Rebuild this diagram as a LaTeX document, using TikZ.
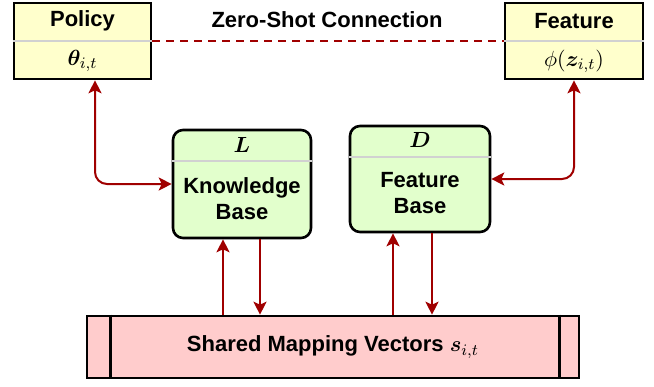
\documentclass[tikz,border=0pt]{standalone}
\usepackage{fontspec}
\setmainfont{Liberation Sans}
\usepackage{amsmath}
\usepackage{bm}
\usetikzlibrary{positioning}
\usetikzlibrary{arrows.meta}
\definecolor{boxyellow}{HTML}{FFFFCC}
\definecolor{boxgreen}{HTML}{E2FFCC}
\definecolor{boxpink}{HTML}{FFCCCC}
\definecolor{linkred}{HTML}{A00000}
\tikzset{
  topbox/.style={draw=black,line width=1.3pt,fill=boxyellow,minimum width=68.5pt,minimum height=38pt,inner sep=0pt},
  basebox/.style={draw=black,line width=1.3pt,fill=boxgreen,rounded corners=5pt,minimum width=69pt,minimum height=54pt,inner sep=0pt},
  barbox/.style={draw=black,line width=1.3pt,fill=boxpink,minimum width=246pt,minimum height=31pt,inner sep=0pt},
  divider/.style={draw=black!18,line width=1pt},
  label/.style={font=\fontsize{11}{13}\selectfont\bfseries,align=center,inner sep=1pt},
  link/.style={draw=linkred,line width=1pt,{Stealth[length=6.5pt,width=6.5pt,inset=1.5pt]}-{Stealth[length=6.5pt,width=6.5pt,inset=1.5pt]}},
  uplink/.style={draw=linkred,line width=1pt,-{Stealth[length=6.5pt,width=6.5pt,inset=1.5pt]}},
  zeroshot/.style={draw=linkred,line width=0.8pt,dash pattern=on 4pt off 3pt}
}
\begin{document}
\begin{tikzpicture}[x=0.5pt,y=-0.5pt]
\useasboundingbox (0,0) rectangle (654,386);

% top boxes
\node[topbox] (pol) at (82.5,41) {};
\node[topbox,minimum width=69pt] (feat) at (574,41) {};
\draw[divider] (pol.west) -- (pol.east);
\draw[divider] (feat.west) -- (feat.east);
\node[label] (poltitle) at (82.5,21) {Policy};
\node[label] (feattitle) at (574,21) {Feature};
\node[label] (polvar) at (82.5,61) {$\bm{\theta}_{i,t}$};
\node[label] (featvar) at (574,61) {$\phi(\bm{z}_{i,t})$};

\draw[zeroshot] (pol.east) -- (feat.west);
\node[label] (zs) at (327,20) {Zero-Shot Connection};

% bases
\node[basebox] (kb) at (242,184) {};
\node[basebox,minimum width=70pt,minimum height=53pt] (fb) at (420,179) {};
\draw[divider] ([yshift=-16pt]kb.north west) -- ([yshift=-16pt]kb.north east);
\draw[divider] ([yshift=-16pt]fb.north west) -- ([yshift=-16pt]fb.north east);
\node[label] (kbvar) at (242,145) {$\bm{L}$};
\node[label] (fbvar) at (420,140) {$\bm{D}$};
\node[label] (kbtxt) at (242,199) {Knowledge\\Base};
\node[label] (fbtxt) at (420,193) {Feature\\Base};

% shared vectors
\node[barbox] (bar) at (333,347) {};
\draw[line width=1.3pt] ([xshift=12.5pt]bar.north west) -- ([xshift=12.5pt]bar.south west);
\draw[line width=1.3pt] ([xshift=-10.5pt]bar.north east) -- ([xshift=-10.5pt]bar.south east);
\node[label] (bartxt) at (333,347) {Shared Mapping Vectors $\bm{s}_{i,t}$};

% connections
\draw[link,rounded corners=6pt] ([xshift=6.25pt]pol.south) |- (kb.west);
\draw[link,rounded corners=6pt] (feat.south) |- (fb.east);
\draw[uplink] ([xshift=-9.5pt]kb.south |- bar.north) -- ([xshift=-9.5pt]kb.south);
\draw[uplink] ([xshift=9pt]kb.south) -- ([xshift=9pt]kb.south |- bar.north);
\draw[uplink] ([xshift=-13.5pt]fb.south |- bar.north) -- ([xshift=-13.5pt]fb.south);
\draw[uplink] ([xshift=6pt]fb.south) -- ([xshift=6pt]fb.south |- bar.north);

\end{tikzpicture}
\end{document}
